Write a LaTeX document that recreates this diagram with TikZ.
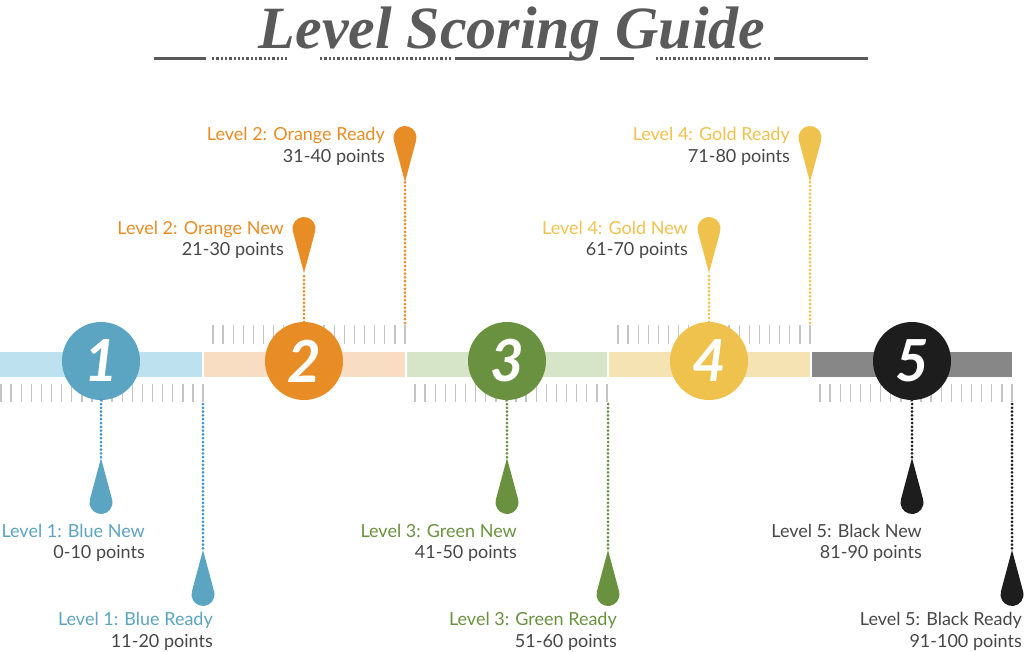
\documentclass[tikz,border=0pt]{standalone}
\usepackage{fontspec}
\setmainfont{Lato}
\newfontfamily\titlefont{Liberation Serif}
\usetikzlibrary{positioning}
\definecolor{lvblue}{HTML}{5BA4C2}
\definecolor{lvbluedot}{HTML}{3F92CF}
\definecolor{lvbluebar}{HTML}{BEE1EF}
\definecolor{lvorange}{HTML}{E88D26}
\definecolor{lvorangebar}{HTML}{F9DDC2}
\definecolor{lvgreen}{HTML}{6A9140}
\definecolor{lvgreenbar}{HTML}{D6E5C8}
\definecolor{lvgold}{HTML}{EFC24E}
\definecolor{lvgoldbar}{HTML}{F6E3B3}
\definecolor{lvblack}{HTML}{1D1D1D}
\definecolor{lvblackbar}{HTML}{878787}
\definecolor{txtgray}{HTML}{474747}
\definecolor{titlegray}{HTML}{5A5A5A}
\definecolor{tickgray}{HTML}{C4C4C4}

\begin{document}
\begin{tikzpicture}[x=1pt, y=-1pt,
  lvl/.style={circle, minimum size=78pt, inner sep=0pt, text=white,
              font=\fontsize{58}{58}\selectfont\bfseries\itshape},
  lab/.style={anchor=north east, inner sep=0pt, align=right, text=txtgray,
              font=\fontsize{18}{21.5}\selectfont},
  dots/.style={line width=3pt, line cap=round, dash pattern=on 0pt off 3.8pt},
  tickline/.style={draw=tickgray, line width=1.4pt},
  rule/.style={draw=titlegray, line width=3pt},
  ruledots/.style={draw=titlegray, line width=3pt, dash pattern=on 2.3pt off 2pt},
  drop/.pic={\fill (0,0) -- (11.11,-41.52)
               arc[start angle=15, end angle=-195, radius=11.5] -- cycle;}
]
  \useasboundingbox (0,0) rectangle (1024,651);

  \node[anchor=base, text=titlegray, inner sep=0pt,
        font=\titlefont\fontsize{60}{60}\selectfont\bfseries\itshape]
    (title) at (512,48) {Level Scoring Guide};
  \draw[rule] (154,58) -- (206,58);
  \draw[ruledots] (212,58) -- (288,58);
  \draw[ruledots] (320,58) -- (453,58);
  \draw[rule] (455,58) -- (575,58);
  \draw[rule] (600,58) -- (634,58);
  \draw[ruledots] (656,58) -- (770,58);
  \draw[rule] (774,58) -- (868,58);

  \foreach \i in {0,...,20} \draw[tickline] (1+\i*10.1,384) -- ++(0,18);
  \foreach \s in {415,820}
    \foreach \i in {0,...,19} \draw[tickline] (\s+\i*10.1,384) -- ++(0,18);
  \foreach \s in {213,618}
    \foreach \i in {0,...,19} \draw[tickline] (\s+\i*10.1,325) -- ++(0,19);

  \fill[lvbluebar] (0,352) rectangle (202,377);
  \fill[lvorangebar] (204,352) rectangle (405,377);
  \fill[lvgreenbar] (407,352) rectangle (607,377);
  \fill[lvgoldbar] (609,352) rectangle (810,377);
  \fill[lvblackbar] (812,352) rectangle (1012,377);

  \node[lvl, fill=lvblue] (lev1) at (101,361) {1};
  \node[lvl, fill=lvorange] (lev2) at (304,361) {2};
  \node[lvl, fill=lvgreen] (lev3) at (507,361) {3};
  \node[lvl, fill=lvgold] (lev4) at (709,361) {4};
  \node[lvl, fill=lvblack] (lev5) at (912,361) {5};

  \coordinate (tip1n) at (101,458);
  \coordinate (tip1r) at (203,550);
  \coordinate (tip2n) at (304,273);
  \coordinate (tip2r) at (405,182);
  \coordinate (tip3n) at (507,458);
  \coordinate (tip3r) at (608,550);
  \coordinate (tip4n) at (709,273);
  \coordinate (tip4r) at (810,182);
  \coordinate (tip5n) at (912,458);
  \coordinate (tip5r) at (1012,550);
  \coordinate (end1) at (203,404);
  \coordinate (end2) at (405,323);
  \coordinate (end3) at (608,404);
  \coordinate (end4) at (810,323);
  \coordinate (end5) at (1012,404);

  \draw[dots, lvbluedot] (lev1.south) -- (tip1n);
  \draw[dots, lvbluedot] (end1) -- (tip1r);
  \draw[dots, lvorange] (lev2.north) -- (tip2n);
  \draw[dots, lvorange] (end2) -- (tip2r);
  \draw[dots, lvgreen] (lev3.south) -- (tip3n);
  \draw[dots, lvgreen] (end3) -- (tip3r);
  \draw[dots, lvgold] (lev4.north) -- (tip4n);
  \draw[dots, lvgold] (end4) -- (tip4r);
  \draw[dots, lvblack] (lev5.south) -- (tip5n);
  \draw[dots, lvblack] (end5) -- (tip5r);

  \pic[lvblue, rotate=180] at (tip1n) {drop};
  \pic[lvblue, rotate=180] at (tip1r) {drop};
  \pic[lvorange] at (tip2n) {drop};
  \pic[lvorange] at (tip2r) {drop};
  \pic[lvgreen, rotate=180] at (tip3n) {drop};
  \pic[lvgreen, rotate=180] at (tip3r) {drop};
  \pic[lvgold] at (tip4n) {drop};
  \pic[lvgold] at (tip4r) {drop};
  \pic[lvblack, rotate=180] at (tip5n) {drop};
  \pic[lvblack, rotate=180] at (tip5r) {drop};

  \node[lab] (lab1n) at (145,524) {\textcolor{lvblue}{Level 1: Blue New}\\0-10 points};
  \node[lab] (lab1r) at (213,612.5) {\textcolor{lvblue}{Level 1: Blue Ready}\\11-20 points};
  \node[lab] (lab2n) at (284,221) {\textcolor{lvorange}{Level 2: Orange New}\\21-30 points};
  \node[lab] (lab2r) at (385,127.5) {\textcolor{lvorange}{Level 2: Orange Ready}\\31-40 points};
  \node[lab] (lab3n) at (517,524) {\textcolor{lvgreen}{Level 3: Green New}\\41-50 points};
  \node[lab] (lab3r) at (617,612.5) {\textcolor{lvgreen}{Level 3: Green Ready}\\51-60 points};
  \node[lab] (lab4n) at (688,221) {\textcolor{lvgold}{Level 4: Gold New}\\61-70 points};
  \node[lab] (lab4r) at (790,127.5) {\textcolor{lvgold}{Level 4: Gold Ready}\\71-80 points};
  \node[lab] (lab5n) at (922,524) {\textcolor{txtgray}{Level 5: Black New}\\81-90 points};
  \node[lab] (lab5r) at (1022,612.5) {\textcolor{txtgray}{Level 5: Black Ready}\\91-100 points};
\end{tikzpicture}
\end{document}
